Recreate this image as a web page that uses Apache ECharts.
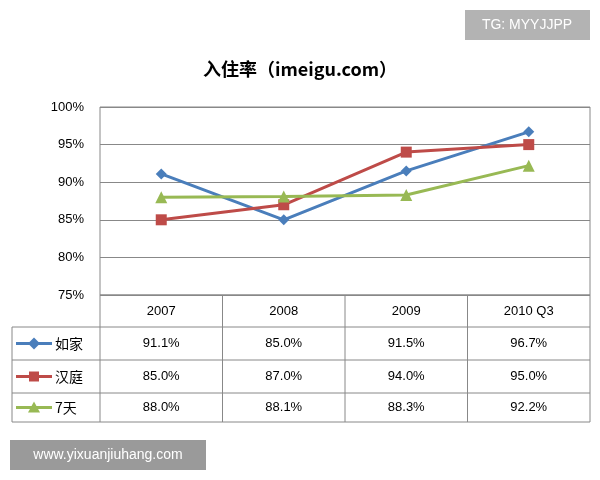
<!DOCTYPE html>
<html><head><meta charset="utf-8">
<script src="https://cdn.jsdelivr.net/npm/echarts@6/dist/echarts.min.js"></script>
<style>html,body{margin:0;background:#fff}#c{width:600px;height:480px}</style>
</head><body><div id="c"></div>
<script>
var categories = ['2007','2008','2009','2010 Q3'];
var seriesNames = ['如家','汉庭','7天'];
var rujia = [91.1,85.0,91.5,96.7];
var hanting = [85.0,87.0,94.0,95.0];
var qitian = [88.0,88.1,88.3,92.2];
var yTicks = [75,80,85,90,95,100];

var allData=[rujia,hanting,qitian];
var colors=['#4a7ebb','#be4b48','#98b954'];
var symbols=['diamond','rect','triangle'];
var sizes=[11,11,12];
var L=100,R=590,T=107,B=295;
var rows=[295,327,360,393,422];
var colW=(R-L)/categories.length;
var g=[];
function line(x1,y1,x2,y2){g.push({type:'line',shape:{x1:x1,y1:y1,x2:x2,y2:y2},style:{stroke:'#888',lineWidth:1}});}
// horizontal lines
for(var i=0;i<rows.length;i++){line(i==0?L:12,rows[i],R,rows[i]);}
line(12,rows[1],12,rows[4]);
for(var j=0;j<=categories.length;j++){line(L+j*colW,rows[0],L+j*colW,rows[4]);}
categories.forEach(function(c,j){g.push({type:'text',style:{text:c,x:L+(j+0.5)*colW,y:(rows[0]+rows[1])/2,align:'center',verticalAlign:'middle',font:'13px "Liberation Sans"',fill:'#000'}});});
seriesNames.forEach(function(n,i){
 var yc=(rows[i+1]+rows[i+2])/2;
 g.push({type:'line',shape:{x1:16,y1:yc,x2:52,y2:yc},style:{stroke:colors[i],lineWidth:3}});
 var sym=echarts.graphic; 
 g.push({type:'text',style:{text:n,x:55,y:yc,verticalAlign:'middle',font:'14px "Noto Sans CJK SC"',fill:'#000'}});
 allData[i].forEach(function(v,j){g.push({type:'text',style:{text:v.toFixed(1)+'%',x:L+(j+0.5)*colW,y:yc,align:'center',verticalAlign:'middle',font:'13px "Liberation Sans"',fill:'#000'}});});
});
// markers in legend keys
var markerShapes=[
 function(x,y,c){return {type:'polygon',shape:{points:[[x,y-6],[x+6,y],[x,y+6],[x-6,y]]},style:{fill:c}};},
 function(x,y,c){return {type:'rect',shape:{x:x-5,y:y-5,width:10,height:10},style:{fill:c}};},
 function(x,y,c){return {type:'polygon',shape:{points:[[x,y-6],[x+6,y+5],[x-6,y+5]]},style:{fill:c}};}
];
seriesNames.forEach(function(n,i){var yc=(rows[i+1]+rows[i+2])/2;g.push(markerShapes[i](34,yc,colors[i]));});
// plot border
g.push({type:'rect',shape:{x:L,y:T,width:R-L,height:B-T},style:{fill:'none',stroke:'#888',lineWidth:1}});
// watermarks
g.push({type:'rect',shape:{x:465,y:10,width:125,height:30},style:{fill:'#b3b3b3'}});
g.push({type:'text',style:{text:'TG: MYYJJPP',x:527,y:25,align:'center',verticalAlign:'middle',font:'14px "Liberation Sans"',fill:'#fff'}});
g.push({type:'rect',shape:{x:10,y:440,width:196,height:30},style:{fill:'#9a9a9a'}});
g.push({type:'text',style:{text:'www.yixuanjiuhang.com',x:108,y:455,align:'center',verticalAlign:'middle',font:'14px "Liberation Sans"',fill:'#fff'}});

var chart=echarts.init(document.getElementById('c'));
chart.setOption({
 animation:false,
 title:{text:'入住率（imeigu.com）',left:'center',top:55,textStyle:{fontSize:18,fontWeight:'bold',color:'#000',fontFamily:'Noto Sans CJK SC'}},
 grid:{left:L,right:600-R,top:T,bottom:480-B},
 xAxis:{type:'category',data:categories,boundaryGap:true,axisLabel:{show:false},axisTick:{show:false},axisLine:{show:false}},
 yAxis:{type:'value',min:yTicks[0],max:yTicks[yTicks.length-1],interval:5,
  axisLabel:{formatter:'{value}%',color:'#000',fontSize:13,fontFamily:'Liberation Sans',margin:16},
  axisLine:{show:false},axisTick:{show:false},splitLine:{lineStyle:{color:'#888'}}},
 series:allData.map(function(d,i){return {type:'line',name:seriesNames[i],data:d,symbol:symbols[i],symbolSize:sizes[i],
  lineStyle:{color:colors[i],width:3},itemStyle:{color:colors[i]}};}),
 graphic:g
});
</script></body></html>
